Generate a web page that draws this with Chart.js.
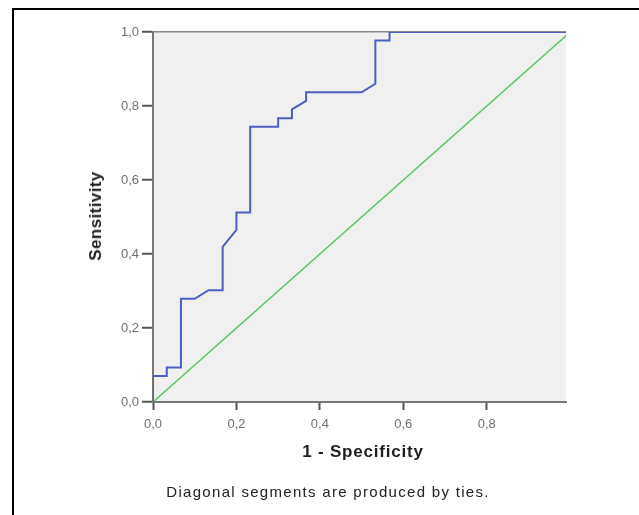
<!DOCTYPE html>
<html>
<head>
<meta charset="utf-8">
<script src="https://cdn.jsdelivr.net/npm/chart.js@4.4.1/dist/chart.umd.min.js"></script>
<style>
    body { margin: 0; background: #fff; font-family: "Liberation Sans", Arial, sans-serif; }
    #wrap { position: relative; width: 639px; height: 515px; overflow: hidden; }
    #frame { position: absolute; left: 12px; top: 8px; width: 700px; height: 600px;
             border-left: 2px solid #000; border-top: 2px solid #000; }
    canvas { position: absolute; left: 0; top: 0; }
    .lbl { position: absolute; color: #1e1e1e; white-space: nowrap; }
    #ytitle { left: 96px; top: 216px; font-weight: bold; font-size: 17px; letter-spacing: 0.4px;
              transform: translate(-50%, -50%) rotate(-90deg); }
    #xtitle { left: 363px; top: 452px; font-weight: bold; font-size: 17px; letter-spacing: 0.8px;
              transform: translate(-50%, -50%); }
    #note { left: 328px; top: 491px; font-size: 15px; letter-spacing: 1.3px; color: #222;
            transform: translate(-50%, -50%); }
</style>
</head>
<body>
<div id="wrap">
    <div id="frame"></div>
    <canvas id="roc" width="639" height="515"></canvas>
    <div class="lbl" id="ytitle">Sensitivity</div>
    <div class="lbl" id="xtitle">1 - Specificity</div>
    <div class="lbl" id="note">Diagonal segments are produced by ties.</div>
</div>
<script>
// ROC curve
const fpr = [0, 0, 0.033, 0.033, 0.067, 0.067, 0.100, 0.133, 0.167, 0.167, 0.200, 0.200, 0.233,
             0.233, 0.300, 0.300, 0.333, 0.333, 0.367, 0.367, 0.500, 0.533, 0.533, 0.567, 0.567, 1.0];
const tpr = [0, 0.070, 0.070, 0.093, 0.093, 0.279, 0.279, 0.302, 0.302, 0.419, 0.465, 0.512, 0.512,
             0.744, 0.744, 0.767, 0.767, 0.791, 0.814, 0.837, 0.837, 0.860, 0.977, 0.977, 1.0, 1.0];
// reference line
const refX = [0, 1];
const refY = [0, 1];
const xTicks = [0, 0.2, 0.4, 0.6, 0.8];
const yTicks = [0, 0.2, 0.4, 0.6, 0.8, 1.0];

const toPts = (xs, ys) => xs.map((x, i) => ({ x: x, y: ys[i] }));
const comma = (v) => Number(v).toFixed(1).replace('.', ',');

const plotBg = {
    id: 'plotBg',
    beforeDraw(chart) {
        const { ctx, chartArea: a } = chart;
        ctx.save();
        ctx.fillStyle = '#f0f0f0';
        ctx.fillRect(a.left, a.top, a.right - a.left, a.bottom - a.top);
        ctx.restore();
    }
};

new Chart(document.getElementById('roc'), {
    type: 'scatter',
    data: {
        datasets: [
            {
                data: toPts(fpr, tpr),
                showLine: true,
                borderColor: '#4b5fbf',
                borderWidth: 2,
                pointRadius: 0,
                order: 1,
            },
            {
                data: toPts(refX, refY),
                showLine: true,
                borderColor: '#5cc766',
                borderWidth: 1.5,
                pointRadius: 0,
                order: 2,
            },
        ],
    },
    options: {
        responsive: false,
        animation: false,
        layout: { padding: { left: 0, top: 32, right: 73, bottom: 0 } },
        plugins: { legend: { display: false }, tooltip: { enabled: false } },
        scales: {
            x: {
                type: 'linear',
                min: 0,
                max: 0.99,
                afterBuildTicks: (s) => { s.ticks = xTicks.map((v) => ({ value: v })); },
                afterFit: (s) => { s.height = 113; },
                border: { color: '#777', width: 2 },
                grid: { drawOnChartArea: false, tickLength: 8, tickColor: '#555', tickWidth: 2 },
                ticks: { color: '#707070', font: { size: 13, family: 'Liberation Sans' }, padding: 7, callback: comma },
            },
            y: {
                type: 'linear',
                min: 0,
                max: 1,
                afterBuildTicks: (s) => { s.ticks = yTicks.map((v) => ({ value: v })); },
                afterFit: (s) => { s.width = 153; },
                border: { color: '#777', width: 2 },
                grid: {
                    color: (c) => (c.tick && c.tick.value === 1 ? '#888' : 'rgba(0,0,0,0)'),
                    lineWidth: 1.5,
                    tickLength: 11,
                    tickColor: '#555',
                    tickWidth: 2,
                },
                ticks: { color: '#707070', font: { size: 13, family: 'Liberation Sans' }, padding: 3, callback: comma },
            },
        },
    },
    plugins: [plotBg],
});
</script>
</body>
</html>
